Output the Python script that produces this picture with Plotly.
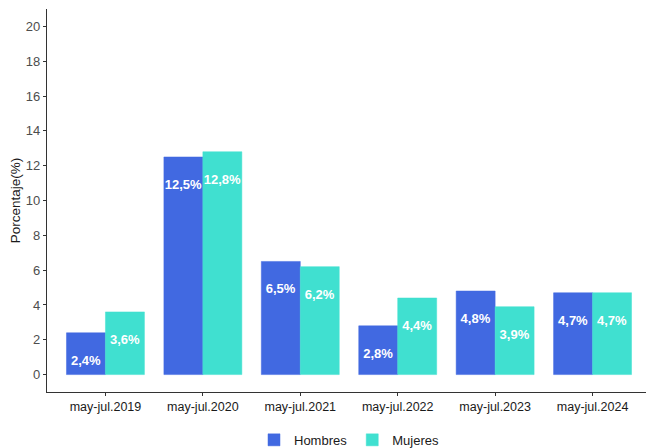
import plotly.graph_objects as go

periodos = ['may-jul.2019', 'may-jul.2020', 'may-jul.2021', 'may-jul.2022', 'may-jul.2023', 'may-jul.2024']
hombres = [2.4, 12.5, 6.5, 2.8, 4.8, 4.7]
mujeres = [3.6, 12.8, 6.2, 4.4, 3.9, 4.7]
y_ticks = [0, 2, 4, 6, 8, 10, 12, 14, 16, 18, 20]

def etiqueta(vals):
    # linea vacia arriba para bajar la etiqueta como en ggplot (vjust)
    return [' <br>' + ('%.1f' % v).replace('.', ',') + '%' for v in vals]

fig = go.Figure()
for nombre, vals, color in [('Hombres', hombres, '#4169E1'), ('Mujeres', mujeres, '#40E0D0')]:
    fig.add_trace(go.Bar(
        x=periodos, y=vals, name=nombre,
        marker=dict(color=color, line=dict(color=color, width=0.5)),
        text=etiqueta(vals), textposition='inside', insidetextanchor='end',
        constraintext='none', textangle=0,
        textfont=dict(family='Liberation Sans', size=13, color='white', weight='bold'),
    ))

fig.update_layout(
    barmode='group', bargap=0.2, bargroupgap=0,
    width=654, height=448,
    margin=dict(l=39, r=11, t=1, b=59),
    plot_bgcolor='white', paper_bgcolor='white',
    font=dict(family='Liberation Sans', color='#4d4d4d'),
    legend=dict(orientation='h', x=0.5, xanchor='center', y=-0.125, yanchor='middle',
                font=dict(size=13, color='#1a1a1a'), traceorder='normal'),
    showlegend=True,
)
fig.update_xaxes(range=[-0.6, 5.6], showline=True, linecolor='#333333', linewidth=1.2,
                 ticks='outside', ticklen=3, tickcolor='#333333', automargin=False,
                 tickfont=dict(size=12.5, color='#1a1a1a'), showgrid=False)
fig.update_yaxes(range=[-1, 21], tickvals=y_ticks, showline=True, linecolor='#333333', linewidth=1.2,
                 ticks='outside', ticklen=3, tickcolor='#333333', zeroline=False, automargin=False,
                 tickfont=dict(size=13, color='#4d4d4d'), showgrid=False,
                 title=dict(text='Porcentaje(%)', font=dict(size=13.5, color='#1a1a1a'), standoff=6))

fig.write_html('out.html')
